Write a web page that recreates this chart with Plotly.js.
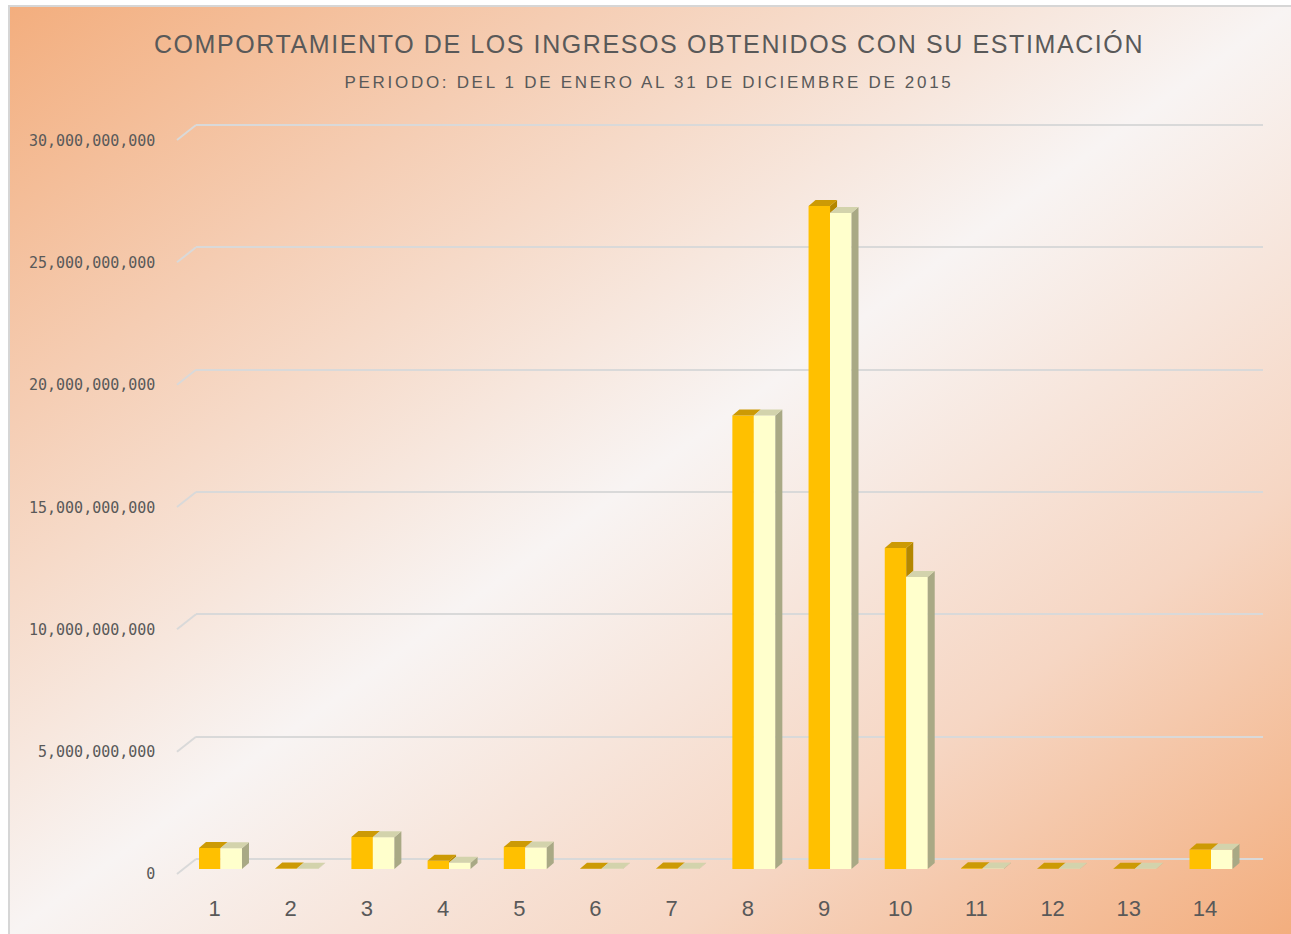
<!DOCTYPE html>
<html><head><meta charset="utf-8">
<script src="https://cdn.plot.ly/plotly-3.0.1.min.js"></script>
<style>
html,body{margin:0;padding:0;background:#ffffff;width:1291px;height:934px;overflow:hidden}
#bg{position:absolute;left:8px;top:5px;width:1283px;height:929px;border-left:2px solid #D6D6D6;border-top:2px solid #D6D6D6;box-sizing:border-box;
background:linear-gradient(to bottom right,#F3AE7E 0%,#F5CDB3 22%,#F8F4F3 50%,#F6D6C3 76%,#F3AE7E 100%)}
#chart{position:absolute;left:0;top:0;width:1291px;height:934px}
#chart .gtitle{letter-spacing:1.6px}
#chart .annotation-text{letter-spacing:2.7px}
</style></head><body><div id="bg"></div><div id="chart"></div>
<script>
// ---- data ----
const categories = ['1','2','3','4','5','6','7','8','9','10','11','12','13','14'];
const ingresos   = [0.86e9, 0.02e9, 1.31e9, 0.34e9, 0.90e9, 0.01e9, 0.02e9, 18.55e9, 27.12e9, 13.13e9, 0.03e9, 0.01e9, 0.01e9, 0.80e9];
const estimacion = [0.85e9, 0.01e9, 1.30e9, 0.26e9, 0.88e9, 0.01e9, 0.01e9, 18.55e9, 26.83e9, 11.94e9, 0.02e9, 0.01e9, 0.01e9, 0.79e9];
const yTicks = [0, 5e9, 10e9, 15e9, 20e9, 25e9, 30e9];
const titleText = 'COMPORTAMIENTO DE LOS INGRESOS OBTENIDOS CON SU ESTIMACIÓN';
const subtitleText = 'PERIODO: DEL 1 DE ENERO AL 31 DE DICIEMBRE DE 2015';

// ---- layout geometry (pixels) ----
const W = 1291, H = 934;
const gridX = [196, 1263], gridY = [859, 125];      // back wall (gridlines): y of 0 and of yMax
const barX = [182.4, 1249.1], barY = [869, 135.5];  // front plane (bars)
const yMax = 30e9;
const fx = p => p / W, fy = p => (H - p) / H;

// grid axis gets a little extra range so that the end gridlines and connectors are not clipped
const eps = 1.2e9;
const gScale = (gridY[0] - gridY[1]) / yMax;
const gDom = [fy(gridY[0] + eps * gScale), fy(gridY[1] - eps * gScale)];

const barFrac = 0.282;                // width of one bar, in category units
const pxPerCat = (barX[1] - barX[0]) / categories.length;
const wPx = barFrac * pxPerCat;
const DX = 7, DY = 6;                 // depth of the 3D bars in pixels
const dyData = DY * yMax / (barY[0] - barY[1]);

const C = {
  orange: '#FFC000', orangeTop: '#CC9A05', orangeSide: '#B48700',
  yellow: '#FFFFCC', yellowTop: '#D3D3AC', yellowSide: '#A9A985',
  grid: '#D9D9D9', text: '#595959'
};

const shapes = [];
// connectors of the gridlines (back wall -> front)
yTicks.forEach(v => shapes.push({
  type: 'line', xref: 'paper', yref: 'y', xsizemode: 'pixel', ysizemode: 'pixel',
  xanchor: fx(gridX[0]), yanchor: v, x0: -19, y0: -15, x1: 0, y1: 0,
  line: {color: C.grid, width: 2}, layer: 'above'
}));

const topPath = `M ${-wPx/2},0 L ${wPx/2},0 L ${wPx/2+DX},${DY} L ${-wPx/2+DX},${DY} Z`;
categories.forEach((c, i) => {
  const aO = i - barFrac / 2, aY = i + barFrac / 2;
  const vO = ingresos[i], vY = estimacion[i];
  const lo = Math.min(vO, vY);
  if (vO > lo) {
    shapes.push({type: 'path', xref: 'x2', yref: 'y2', xsizemode: 'pixel', ysizemode: 'scaled', xanchor: aO,
      path: `M ${wPx/2},${lo} L ${wPx/2+DX},${lo+dyData} L ${wPx/2+DX},${vO+dyData} L ${wPx/2},${vO} Z`,
      fillcolor: C.orangeSide, line: {width: 0}, layer: 'above'});
  }
  shapes.push({type: 'path', xref: 'x2', yref: 'y2', xsizemode: 'pixel', ysizemode: 'pixel', xanchor: aO, yanchor: vO,
    path: topPath, fillcolor: C.orangeTop, line: {width: 0}, layer: 'above'});
  shapes.push({type: 'path', xref: 'x2', yref: 'y2', xsizemode: 'pixel', ysizemode: 'scaled', xanchor: aY,
    path: `M ${wPx/2},0 L ${wPx/2+DX},${dyData} L ${wPx/2+DX},${vY+dyData} L ${wPx/2},${vY} Z`,
    fillcolor: C.yellowSide, line: {width: 0}, layer: 'above'});
  shapes.push({type: 'path', xref: 'x2', yref: 'y2', xsizemode: 'pixel', ysizemode: 'pixel', xanchor: aY, yanchor: vY,
    path: topPath, fillcolor: C.yellowTop, line: {width: 0}, layer: 'above'});
});

const data = [
  {type: 'scatter', x: [], y: [], xaxis: 'x', yaxis: 'y', showlegend: false, hoverinfo: 'skip'},
  {type: 'bar', name: 'Ingresos obtenidos', x: categories, y: ingresos, xaxis: 'x2', yaxis: 'y2',
   marker: {color: C.orange, line: {width: 0}}},
  {type: 'bar', name: 'Estimación', x: categories, y: estimacion, xaxis: 'x2', yaxis: 'y2',
   marker: {color: C.yellow, line: {width: 0}}}
];

const layout = {
  width: W, height: H, autosize: false,
  margin: {l: 0, r: 0, t: 0, b: 0, pad: 0},
  paper_bgcolor: 'rgba(0,0,0,0)', plot_bgcolor: 'rgba(0,0,0,0)',
  showlegend: false, barmode: 'group', bargap: 1 - 2 * barFrac, bargroupgap: 0,
  font: {family: 'Liberation Sans, Arial, sans-serif', color: C.text},
  title: {text: titleText, x: fx(649), xanchor: 'center', xref: 'container',
          y: fy(44), yanchor: 'middle', yref: 'container',
          font: {family: 'Liberation Sans, Arial, sans-serif', size: 25, color: C.text}},
  annotations: [{text: subtitleText, showarrow: false, xref: 'paper', yref: 'paper',
                 x: fx(649), y: fy(82), xanchor: 'center', yanchor: 'middle',
                 font: {family: 'Liberation Sans, Arial, sans-serif', size: 17, color: C.text}}],
  xaxis: {domain: [fx(gridX[0]), fx(gridX[1])], range: [0, 1], anchor: 'y',
          showgrid: false, zeroline: false, showticklabels: false, showline: false, ticks: ''},
  yaxis: {domain: gDom, range: [-eps, yMax + eps], anchor: 'x',
          tickvals: yTicks, showticklabels: false, showgrid: true, gridcolor: C.grid, gridwidth: 2,
          zeroline: false, showline: false, ticks: ''},
  xaxis2: {domain: [fx(barX[0]), fx(barX[1])], type: 'category', range: [-0.5, categories.length - 0.5],
           anchor: 'y2', showgrid: false, zeroline: false, showline: false, ticks: '',
           tickfont: {family: 'Liberation Sans, Arial, sans-serif', size: 22, color: C.text},
           ticklabelstandoff: 24, ticklabelshift: -6},
  yaxis2: {domain: [fy(barY[0]), fy(barY[1])], range: [0, yMax], anchor: 'x2',
           tickvals: yTicks, tickformat: ',', showgrid: false, zeroline: false, showline: false, ticks: '',
           tickfont: {family: 'DejaVu Sans Mono, monospace', size: 15, color: C.text},
           ticklabelstandoff: 26, ticklabelshift: 5},
  shapes: shapes
};

Plotly.newPlot('chart', data, layout, {staticPlot: true, displayModeBar: false});
</script></body></html>
